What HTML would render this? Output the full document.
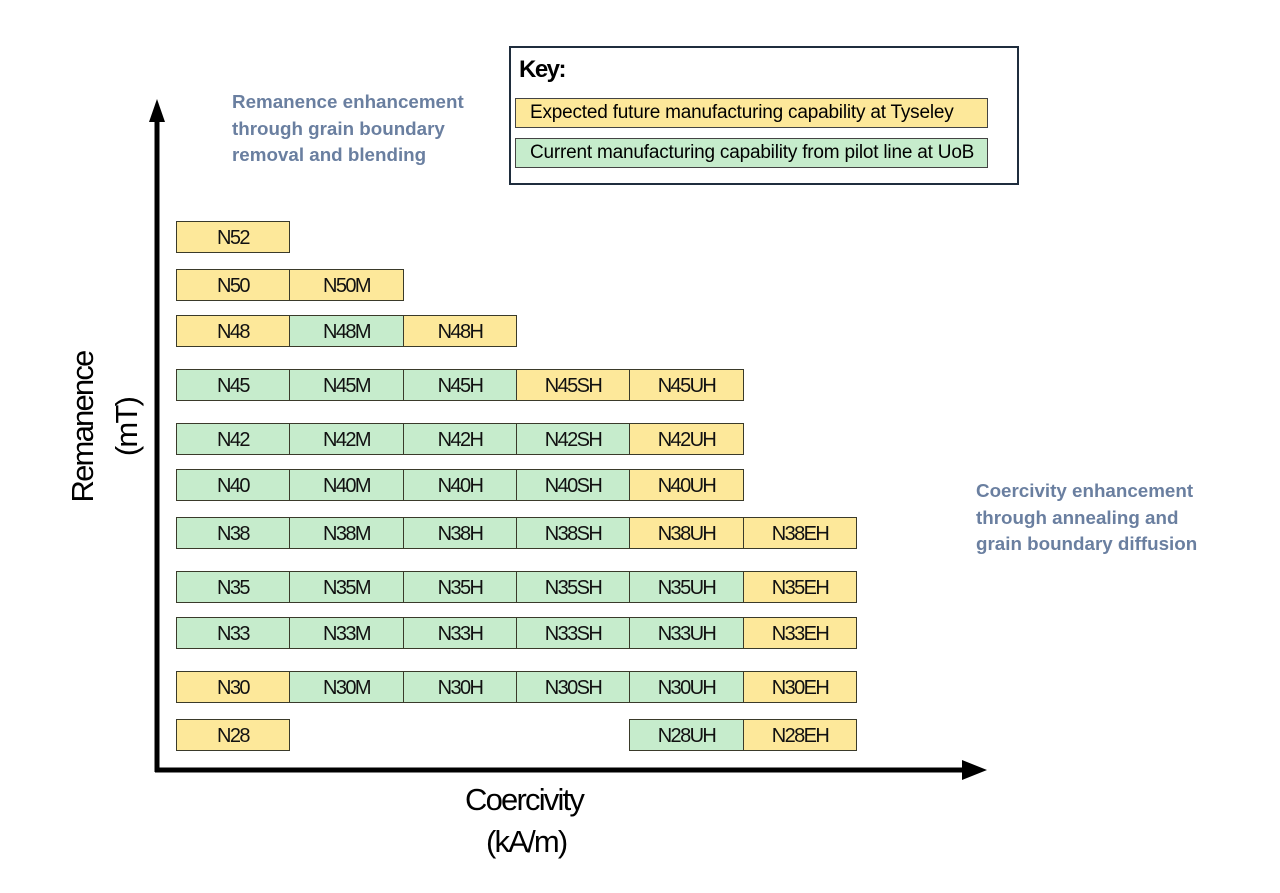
<!DOCTYPE html>
<html><head><meta charset="utf-8"><style>
html,body{margin:0;padding:0;background:#fff;}
body{width:1280px;height:893px;position:relative;overflow:hidden;font-family:"Liberation Sans",Arial,sans-serif;}
.c{position:absolute;box-sizing:border-box;border:1px solid #3a3a2a;font-size:20px;letter-spacing:-1.6px;color:#111;text-align:center;line-height:32px;height:32px;}
.y{background:#fde89a;}
.g{background:#c6eccc;}
.note{position:absolute;color:#6a7fa0;font-weight:bold;font-size:18.8px;line-height:26.5px;white-space:nowrap;}
.lab{position:absolute;font-size:31px;letter-spacing:-1.8px;color:#000;white-space:nowrap;}
</style></head><body>
<svg width="1280" height="893" style="position:absolute;left:0;top:0">
<line x1="157" y1="118" x2="157" y2="772" stroke="#000" stroke-width="5"/>
<polygon points="157,99 149,122 165,122" fill="#000"/>
<line x1="155" y1="770" x2="968" y2="770" stroke="#000" stroke-width="5"/>
<polygon points="987,770 962,760 962,780" fill="#000"/>
</svg>

<div class="note" style="left:232px;top:89px;">Remanence enhancement<br>through grain boundary<br>removal and blending</div>
<div class="note" style="left:976px;top:478px;">Coercivity enhancement<br>through annealing and<br>grain boundary diffusion</div>

<div style="position:absolute;left:509px;top:46px;width:510px;height:139px;box-sizing:border-box;border:2px solid #1f2d3d;"></div>
<div style="position:absolute;left:519px;top:56px;font-size:24px;font-weight:bold;letter-spacing:-1.5px;">Key:</div>
<div style="position:absolute;left:515px;top:98px;width:473px;height:30px;box-sizing:border-box;border:1px solid #444;background:#fde89a;font-size:19px;letter-spacing:-0.2px;line-height:27px;padding-left:14px;white-space:nowrap;">Expected future manufacturing capability at Tyseley</div>
<div style="position:absolute;left:515px;top:138px;width:473px;height:30px;box-sizing:border-box;border:1px solid #444;background:#c6eccc;font-size:19px;letter-spacing:-0.2px;line-height:27px;padding-left:14px;white-space:nowrap;">Current manufacturing capability from pilot line at UoB</div>

<div class="lab" style="left:83px;top:427px;transform:translate(-50%,-50%) rotate(-90deg);">Remanence</div>
<div class="lab" style="left:127px;top:427px;transform:translate(-50%,-50%) rotate(-90deg);">(mT)</div>
<div class="lab" style="left:465px;top:782px;">Coercivity</div>
<div class="lab" style="left:486px;top:824px;">(kA/m)</div>

<div class="c y" style="left:176px;top:221px;width:114px;">N52</div>
<div class="c y" style="left:176px;top:269px;width:114px;">N50</div>
<div class="c y" style="left:289px;top:269px;width:115px;">N50M</div>
<div class="c y" style="left:176px;top:315px;width:114px;">N48</div>
<div class="c g" style="left:289px;top:315px;width:115px;">N48M</div>
<div class="c y" style="left:403px;top:315px;width:114px;">N48H</div>
<div class="c g" style="left:176px;top:369px;width:114px;">N45</div>
<div class="c g" style="left:289px;top:369px;width:115px;">N45M</div>
<div class="c g" style="left:403px;top:369px;width:114px;">N45H</div>
<div class="c y" style="left:516px;top:369px;width:114px;">N45SH</div>
<div class="c y" style="left:629px;top:369px;width:115px;">N45UH</div>
<div class="c g" style="left:176px;top:423px;width:114px;">N42</div>
<div class="c g" style="left:289px;top:423px;width:115px;">N42M</div>
<div class="c g" style="left:403px;top:423px;width:114px;">N42H</div>
<div class="c g" style="left:516px;top:423px;width:114px;">N42SH</div>
<div class="c y" style="left:629px;top:423px;width:115px;">N42UH</div>
<div class="c g" style="left:176px;top:469px;width:114px;">N40</div>
<div class="c g" style="left:289px;top:469px;width:115px;">N40M</div>
<div class="c g" style="left:403px;top:469px;width:114px;">N40H</div>
<div class="c g" style="left:516px;top:469px;width:114px;">N40SH</div>
<div class="c y" style="left:629px;top:469px;width:115px;">N40UH</div>
<div class="c g" style="left:176px;top:517px;width:114px;">N38</div>
<div class="c g" style="left:289px;top:517px;width:115px;">N38M</div>
<div class="c g" style="left:403px;top:517px;width:114px;">N38H</div>
<div class="c g" style="left:516px;top:517px;width:114px;">N38SH</div>
<div class="c y" style="left:629px;top:517px;width:115px;">N38UH</div>
<div class="c y" style="left:743px;top:517px;width:114px;">N38EH</div>
<div class="c g" style="left:176px;top:571px;width:114px;">N35</div>
<div class="c g" style="left:289px;top:571px;width:115px;">N35M</div>
<div class="c g" style="left:403px;top:571px;width:114px;">N35H</div>
<div class="c g" style="left:516px;top:571px;width:114px;">N35SH</div>
<div class="c g" style="left:629px;top:571px;width:115px;">N35UH</div>
<div class="c y" style="left:743px;top:571px;width:114px;">N35EH</div>
<div class="c g" style="left:176px;top:617px;width:114px;">N33</div>
<div class="c g" style="left:289px;top:617px;width:115px;">N33M</div>
<div class="c g" style="left:403px;top:617px;width:114px;">N33H</div>
<div class="c g" style="left:516px;top:617px;width:114px;">N33SH</div>
<div class="c g" style="left:629px;top:617px;width:115px;">N33UH</div>
<div class="c y" style="left:743px;top:617px;width:114px;">N33EH</div>
<div class="c y" style="left:176px;top:671px;width:114px;">N30</div>
<div class="c g" style="left:289px;top:671px;width:115px;">N30M</div>
<div class="c g" style="left:403px;top:671px;width:114px;">N30H</div>
<div class="c g" style="left:516px;top:671px;width:114px;">N30SH</div>
<div class="c g" style="left:629px;top:671px;width:115px;">N30UH</div>
<div class="c y" style="left:743px;top:671px;width:114px;">N30EH</div>
<div class="c y" style="left:176px;top:719px;width:114px;">N28</div>
<div class="c g" style="left:629px;top:719px;width:115px;">N28UH</div>
<div class="c y" style="left:743px;top:719px;width:114px;">N28EH</div>
</body></html>
